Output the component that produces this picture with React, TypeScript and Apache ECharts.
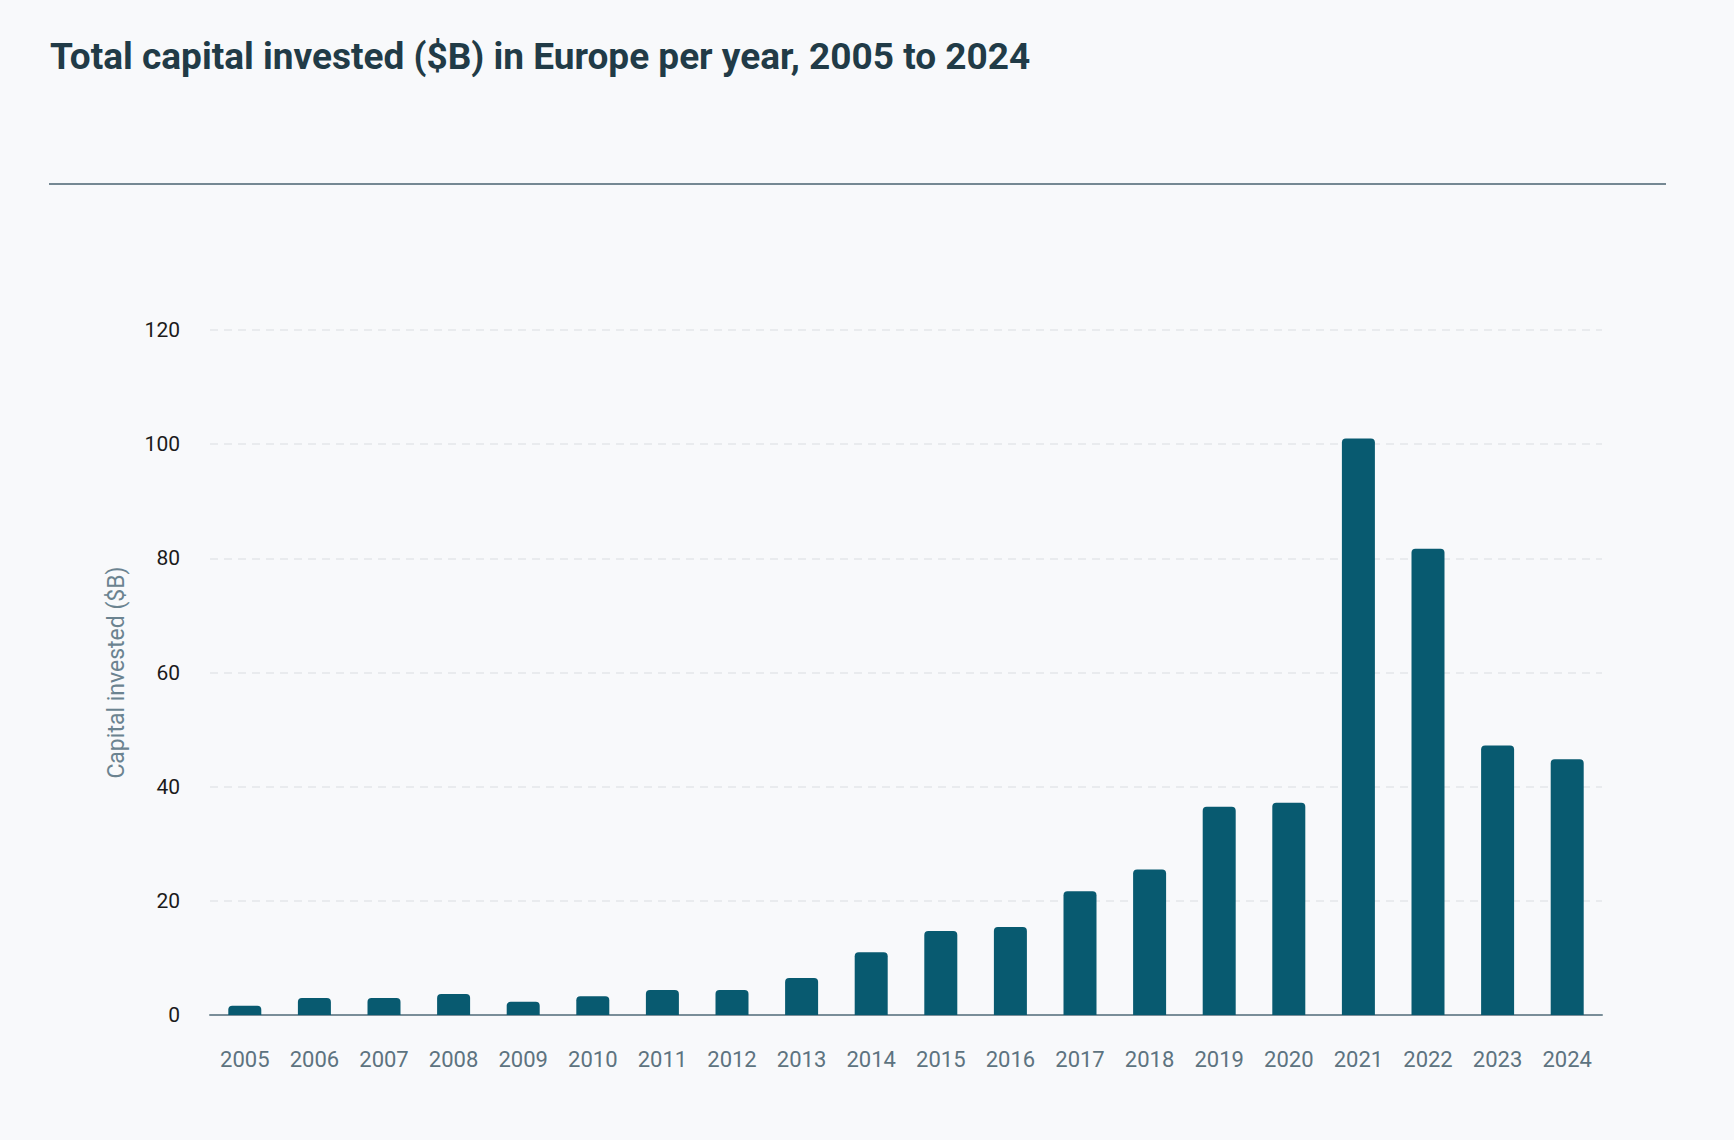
import React, { useEffect, useRef } from "react";
import * as echarts from "echarts";

const years = ["2005","2006","2007","2008","2009","2010","2011","2012","2013","2014","2015","2016","2017","2018","2019","2020","2021","2022","2023","2024"];
const capitalInvested = [1.6, 3.0, 3.0, 3.7, 2.3, 3.3, 4.4, 4.4, 6.5, 11.0, 14.7, 15.4, 21.7, 25.5, 36.5, 37.2, 101.0, 81.7, 47.2, 44.8];
const yTicks = { min: 0, max: 120, interval: 20 };
const titleText = "Total capital invested ($B) in Europe per year, 2005 to 2024";
const yAxisName = "Capital invested ($B)";

const W = 1734;
const H = 1140;
const BG = "#f8f9fb";

export default function App() {
  const ref = useRef<HTMLDivElement>(null);
  useEffect(() => {
    if (!ref.current) return;
    const chart = echarts.init(ref.current, undefined, { renderer: "svg", width: W, height: H });
    chart.setOption({
      animation: false,
      backgroundColor: BG,
      title: {
        text: titleText,
        left: 45,
        top: 33,
        textStyle: {
          fontFamily: "'Roboto', sans-serif",
          fontWeight: "bold",
          fontSize: 37,
          color: "#213b47",
        },
      },
      graphic: [
        {
          type: "line",
          shape: { x1: 49, y1: 184, x2: 1666, y2: 184 },
          style: { stroke: "#4a6270", lineWidth: 1.5 },
        },
      ],
      grid: { left: 210, right: 132, top: 330, bottom: 125, containLabel: false },
      xAxis: {
        type: "category",
        data: years,
        axisLine: { show: true, lineStyle: { color: "#7a8e99", width: 2 } },
        axisTick: { show: false },
        axisLabel: {
          color: "#5d7380",
          fontSize: 22,
          margin: 33,
          fontFamily: "Roboto, sans-serif",
        },
      },
      yAxis: {
        type: "value",
        min: yTicks.min,
        max: yTicks.max,
        interval: yTicks.interval,
        name: yAxisName,
        nameLocation: "middle",
        nameGap: 82,
        nameRotate: 90,
        nameTextStyle: {
          color: "#6b8390",
          fontSize: 23,
          fontFamily: "Roboto, sans-serif",
        },
        axisLine: { show: false },
        axisTick: { show: false },
        axisLabel: {
          color: "#1b1b1b",
          fontSize: 21,
          margin: 30,
          fontFamily: "Roboto, sans-serif",
        },
        splitLine: {
          show: true,
          lineStyle: { color: "#e3e6ea", width: 1.5, type: [8, 6] },
        },
      },
      series: [
        {
          type: "bar",
          data: capitalInvested,
          barWidth: 33,
          itemStyle: { color: "#085a70", borderRadius: [4, 4, 0, 0] },
        },
      ],
    });
    return () => chart.dispose();
  }, []);
  return (
    <div
      ref={ref}
      style={{ position: "absolute", left: 0, top: 0, width: W, height: H, background: BG }}
    />
  );
}
